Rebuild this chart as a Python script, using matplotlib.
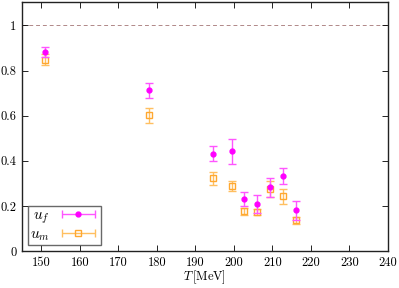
import matplotlib
matplotlib.use("Agg")
import matplotlib.pyplot as plt
import numpy as np
from matplotlib.legend_handler import HandlerErrorbar

# temperatures in MeV
T = [151, 178.1, 194.7, 199.5, 202.7, 206.0, 209.4, 212.7, 216.1]

u_f = [0.882, 0.712, 0.432, 0.442, 0.233, 0.207, 0.282, 0.332, 0.181]
u_f_err = [0.022, 0.034, 0.033, 0.054, 0.031, 0.040, 0.043, 0.035, 0.042]

u_m = [0.848, 0.602, 0.322, 0.288, 0.177, 0.173, 0.274, 0.243, 0.137]
u_m_err = [0.025, 0.034, 0.030, 0.022, 0.016, 0.015, 0.035, 0.033, 0.015]

xticks = [150, 160, 170, 180, 190, 200, 210, 220, 230, 240]
yticks = [0, 0.2, 0.4, 0.6, 0.8, 1]
ytick_labels = ["0", "0.2", "0.4", "0.6", "0.8", "1"]

plt.rcParams["font.family"] = "serif"
plt.rcParams["font.serif"] = ["cmr10", "DejaVu Serif"]
plt.rcParams["mathtext.fontset"] = "cm"
plt.rcParams["axes.formatter.use_mathtext"] = True
plt.rcParams["axes.unicode_minus"] = False

fig = plt.figure(figsize=(3.99, 2.88), dpi=100)
ax = fig.add_axes([0.055, 0.128, 0.917, 0.866])

# reference line at 1
ax.axhline(1.0, color="#b08888", lw=0.7, ls=(0, (4, 3)), zorder=1)

magenta = "#ff00ff"
magenta_bar = "#ff55ff"
orange = "#ffa830"
orange_bar = "#ffbf60"

ax.errorbar(T, u_f, yerr=u_f_err, fmt="o", color=magenta, ecolor=magenta_bar,
            ms=3.5, elinewidth=1.0, capsize=3, capthick=1.0, zorder=3)
ax.errorbar(T, u_m, yerr=u_m_err, fmt="s", color=orange, mfc="none",
            mec=orange, ecolor=orange_bar, ms=5, mew=1.0, elinewidth=1.0,
            capsize=3, capthick=1.0, zorder=2)

# legend handles drawn as horizontal error bars (gnuplot style)
h_f = ax.errorbar([np.nan], [np.nan], xerr=[1.0], fmt="o", color=magenta,
                  ecolor=magenta_bar, ms=3.5, elinewidth=1.0, capsize=3,
                  capthick=1.0, label="$u_f$")
h_m = ax.errorbar([np.nan], [np.nan], xerr=[1.0], fmt="s", color=orange,
                  mfc="none", mec=orange, ecolor=orange_bar, ms=5, mew=1.0,
                  elinewidth=1.0, capsize=3, capthick=1.0, label="$u_m$")

ax.set_xlim(145, 240)
ax.set_ylim(0, 1.105)
ax.set_xticks(xticks)
ax.set_xticklabels([str(t) for t in xticks])
ax.set_yticks(yticks)
ax.set_yticklabels(ytick_labels)
ax.tick_params(direction="in", top=True, right=True, labelsize=9,
               length=4, width=0.6, pad=4)
for s in ax.spines.values():
    s.set_linewidth(1.0)
    s.set_color("#222222")

ax.set_xlabel("$T\\,$[MeV]", fontsize=9, labelpad=0)

leg = ax.legend(handles=[h_f, h_m], loc="lower left", markerfirst=False,
                fontsize=11, frameon=True, fancybox=False, borderpad=0.15,
                handlelength=2.6, handletextpad=0.55, labelspacing=0.1,
                borderaxespad=0.4,
                handler_map={type(h_f): HandlerErrorbar(xerr_size=1.1)})
leg.get_frame().set_edgecolor("#444444")
leg.get_frame().set_linewidth(1.0)

fig.savefig("out.png", dpi=100)
